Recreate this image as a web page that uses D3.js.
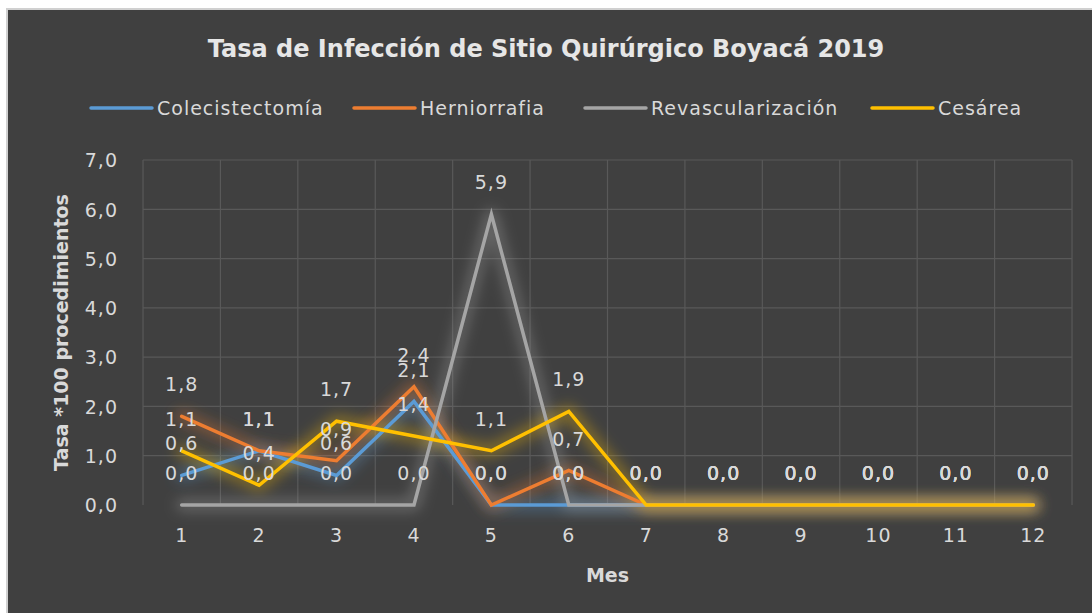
<!DOCTYPE html>
<html><head><meta charset="utf-8">
<script src="https://cdn.jsdelivr.net/npm/d3@7"></script>
<style>body{margin:0;background:#fff;} svg{display:block;}</style>
</head><body>
<script>
const months = [1,2,3,4,5,6,7,8,9,10,11,12];
const seriesNames = ["Colecistectomía","Herniorrafia","Revascularización","Cesárea"];
const colecistectomia = [0.6,1.1,0.6,2.1,0.0,0.0,0.0,0.0,0.0,0.0,0.0,0.0];
const herniorrafia   = [1.8,1.1,0.9,2.4,0.0,0.7,0.0,0.0,0.0,0.0,0.0,0.0];
const revascularizacion = [0.0,0.0,0.0,0.0,5.9,0.0,0.0,0.0,0.0,0.0,0.0,0.0];
const cesarea        = [1.1,0.4,1.7,1.4,1.1,1.9,0.0,0.0,0.0,0.0,0.0,0.0];
const colors = ["#5B9BD5","#ED7D31","#A5A5A5","#FFC000"];
const yTicks = [0,1,2,3,4,5,6,7];
const title = "Tasa de Infección de Sitio Quirúrgico Boyacá 2019";
const yTitle = "Tasa *100 procedimientos";
const xTitle = "Mes";

const W=1092,H=613;
const font="'DejaVu Sans', sans-serif";
const txt="#d9d9d9";
const svg=d3.select("body").append("svg").attr("width",W).attr("height",H);
const defs=svg.append("defs");
const f=defs.append("filter").attr("id","glow").attr("x","-20%").attr("y","-60%").attr("width","140%").attr("height","220%");
f.append("feGaussianBlur").attr("stdDeviation",7);

svg.append("rect").attr("x",0).attr("y",0).attr("width",W).attr("height",H).attr("fill","#ffffff");
svg.append("rect").attr("x",6).attr("y",8).attr("width",W-6).attr("height",H-8).attr("fill","#d0d0d0");
svg.append("rect").attr("x",8).attr("y",10).attr("width",W-8).attr("height",H-10).attr("fill","#404040");

const m={l:143,r:1072,t:160,b:505};
const x=d3.scaleBand().domain(months).range([m.l,m.r]);
const y=d3.scaleLinear().domain([0,7]).range([m.b,m.t]);
const cx=d=>x(d)+x.bandwidth()/2;

// gridlines
const g=svg.append("g");
g.selectAll(".hg").data(yTicks.slice(1)).enter().append("line")
 .attr("x1",m.l).attr("x2",m.r).attr("y1",d=>y(d)).attr("y2",d=>y(d))
 .attr("stroke","#595959").attr("stroke-width",1.2);
const vb=months.map(d=>x(d)).concat([m.r]);
g.selectAll(".vg").data(vb).enter().append("line")
 .attr("x1",d=>d).attr("x2",d=>d).attr("y1",m.t).attr("y2",m.b)
 .attr("stroke","#595959").attr("stroke-width",1.2);

// axes
const fmt=d=>d3.format(".1f")(d).replace(".",",");
const ya=d3.axisLeft(y).tickValues(yTicks).tickSize(0).tickPadding(0).tickFormat(fmt);
const yg=svg.append("g").attr("transform",`translate(${m.l-25},0)`).call(ya);
yg.select(".domain").remove();
yg.selectAll("text").attr("fill",txt).style("font-family",font).style("font-size","19px").style("letter-spacing","1px").attr("dy","0.36em");
const xa=d3.axisBottom(x).tickSize(0).tickPadding(0);
const xg=svg.append("g").attr("transform",`translate(0,${m.b})`).call(xa);
xg.select(".domain").remove();
xg.selectAll("text").attr("fill",txt).style("font-family",font).style("font-size","19px").style("letter-spacing","1px").attr("y",37).attr("dy","0");

const data=[colecistectomia,herniorrafia,revascularizacion,cesarea];
const line=d3.line().x((d,i)=>cx(months[i])).y(d=>y(d));
// glows
data.forEach((s,k)=>{
  svg.append("path").attr("d",line(s)).attr("fill","none").attr("stroke",colors[k])
   .attr("stroke-width",12).attr("stroke-opacity",0.38).attr("stroke-linejoin","round").attr("stroke-linecap","round").attr("filter","url(#glow)");
});
data.forEach((s,k)=>{
  svg.append("path").attr("d",line(s)).attr("fill","none").attr("stroke",colors[k])
   .attr("stroke-width",3.5).attr("stroke-linejoin","miter").attr("stroke-linecap","round");
});
// labels
data.forEach((s,k)=>{
  svg.append("g").selectAll("text").data(s).enter().append("text")
   .attr("x",(d,i)=>cx(months[i])).attr("y",d=>y(d)-25)
   .attr("text-anchor","middle").attr("fill",txt)
   .style("font-family",font).style("font-size","19px").style("letter-spacing","1px")
   .text(fmt);
});

// title
svg.append("text").attr("x",546).attr("y",57).attr("text-anchor","middle").attr("fill","#e6e6e6")
 .style("font-family",font).style("font-weight","bold").style("font-size","24px").text(title);
// axis titles
svg.append("text").attr("transform",`translate(68,${(m.t+m.b)/2}) rotate(-90)`).attr("text-anchor","middle")
 .attr("fill",txt).style("font-family",font).style("font-weight","bold").style("font-size","19px").text(yTitle);
svg.append("text").attr("x",(m.l+m.r)/2).attr("y",582).attr("text-anchor","middle")
 .attr("fill",txt).style("font-family",font).style("font-weight","bold").style("font-size","19px").text(xTitle);

// legend
const legX=[91,354,585,872];
const lg=svg.append("g");
seriesNames.forEach((n,k)=>{
  lg.append("line").attr("x1",legX[k]).attr("x2",legX[k]+61).attr("y1",108).attr("y2",108)
   .attr("stroke",colors[k]).attr("stroke-width",3.5).attr("stroke-linecap","round");
  lg.append("text").attr("x",legX[k]+66).attr("y",115).attr("fill",txt)
   .style("font-family",font).style("font-size","19px").style("letter-spacing","1px").text(n);
});
</script>
</body></html>
